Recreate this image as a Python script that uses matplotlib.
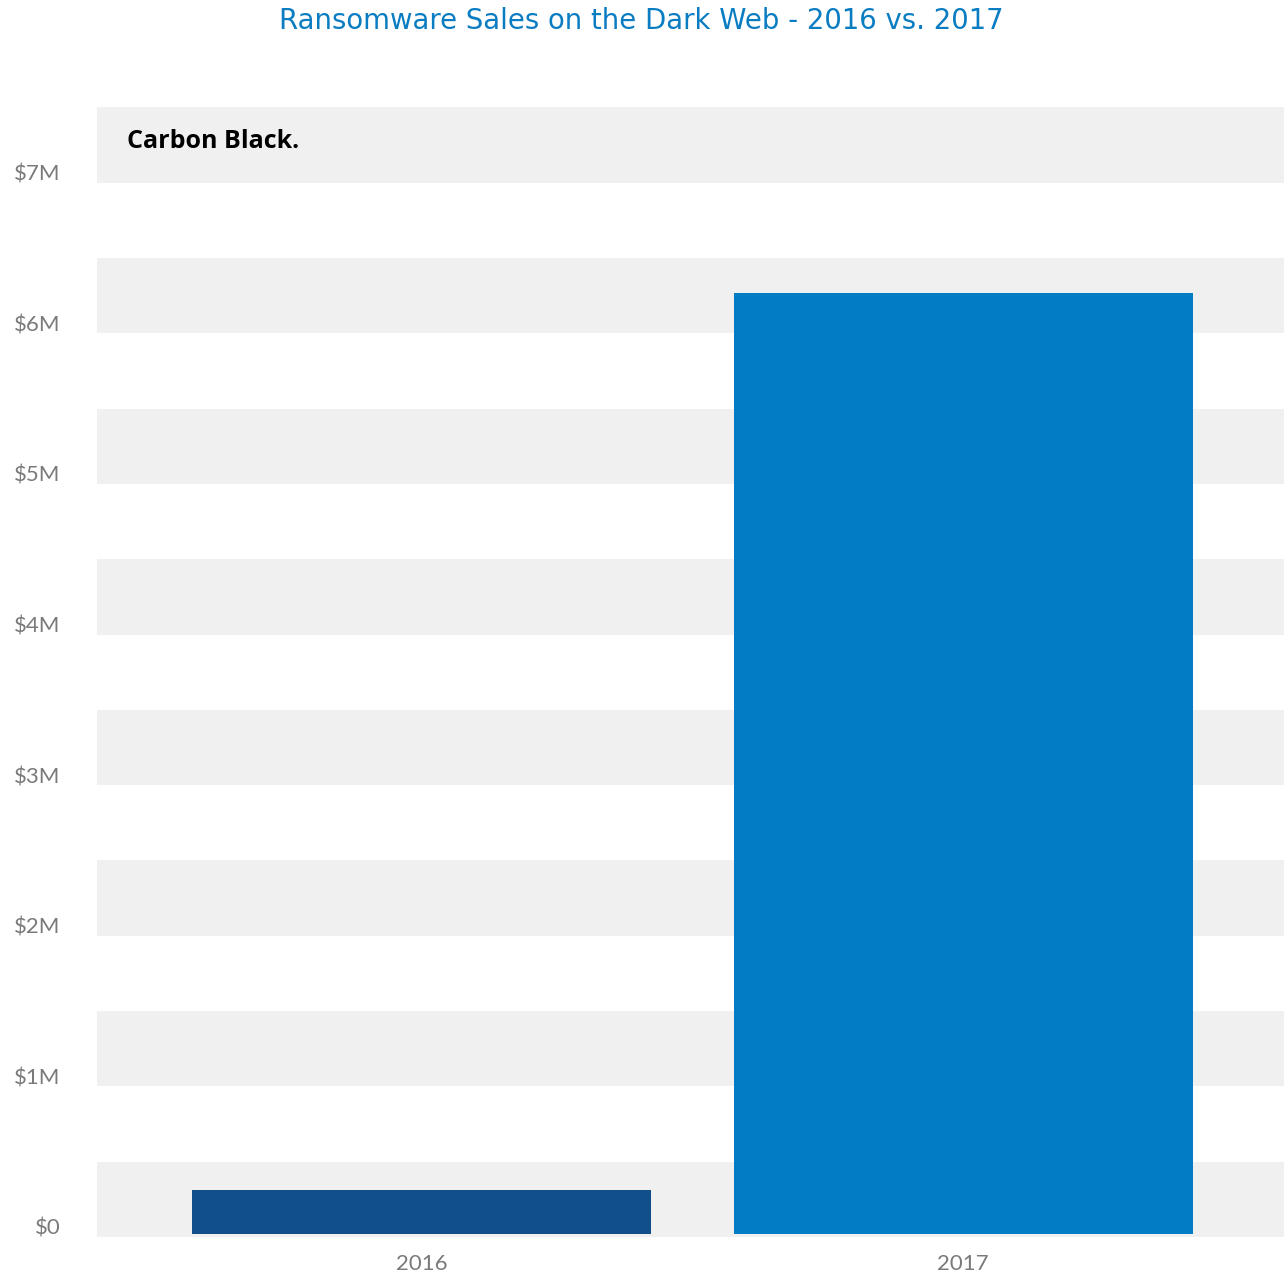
import matplotlib
matplotlib.use("Agg")
import matplotlib.pyplot as plt
from matplotlib.ticker import FuncFormatter
import matplotlib.transforms as mtransforms

years = ["2016", "2017"]
sales = [290000, 6250000]
bar_colors = ["#104F89", "#007DC5"]
y_ticks = [0, 1e6, 2e6, 3e6, 4e6, 5e6, 6e6, 7e6]

W, H = 1286, 1276
fig = plt.figure(figsize=(W / 100, H / 100), dpi=100)
fig.patch.set_facecolor("white")
ax = fig.add_axes([97 / W, (H - 1237) / H, (1284 - 97) / W, (1237 - 107) / H])

# alternating bands
for k in range(8):
    ax.axhspan(k * 1e6 - 0.02e6, k * 1e6 + 0.48e6, color="#F0F0F0", zorder=0, lw=0)

x = [0, 1]
ax.bar(x, sales, width=0.848, color=bar_colors, zorder=2)

ax.set_xlim(-0.60, 1.593)
ax.set_ylim(-0.02e6, 7.483e6)
ax.set_yticks(y_ticks)
ax.yaxis.set_major_formatter(FuncFormatter(lambda v, p: "$0" if v == 0 else f"${v/1e6:.0f}M"))
ax.set_xticks(x)
ax.set_xticklabels(years)

for s in ax.spines.values():
    s.set_visible(False)
ax.tick_params(axis="both", length=0, colors="#7A7A7A", labelsize=16)
ax.tick_params(axis="y", pad=26.5)
ax.tick_params(axis="x", pad=12)
for lab in ax.get_yticklabels():
    lab.set_fontfamily("Lato")
    lab.set_transform(lab.get_transform() + mtransforms.ScaledTranslation(0, 7 / 100, fig.dpi_scale_trans))
for lab in ax.get_xticklabels():
    lab.set_fontfamily("Lato")

fig.text(641 / W, 1 - 21 / H, "Ransomware Sales on the Dark Web - 2016 vs. 2017",
         ha="center", va="center", fontsize=19.8, color="#0A7DC2", family="DejaVu Sans")
fig.text(127 / W, 1 - 141 / H, "Carbon Black.", ha="left", va="center",
         fontsize=18, color="#000000", family="Open Sans", fontweight="bold")

fig.savefig("out.png", dpi=100, facecolor="white")
